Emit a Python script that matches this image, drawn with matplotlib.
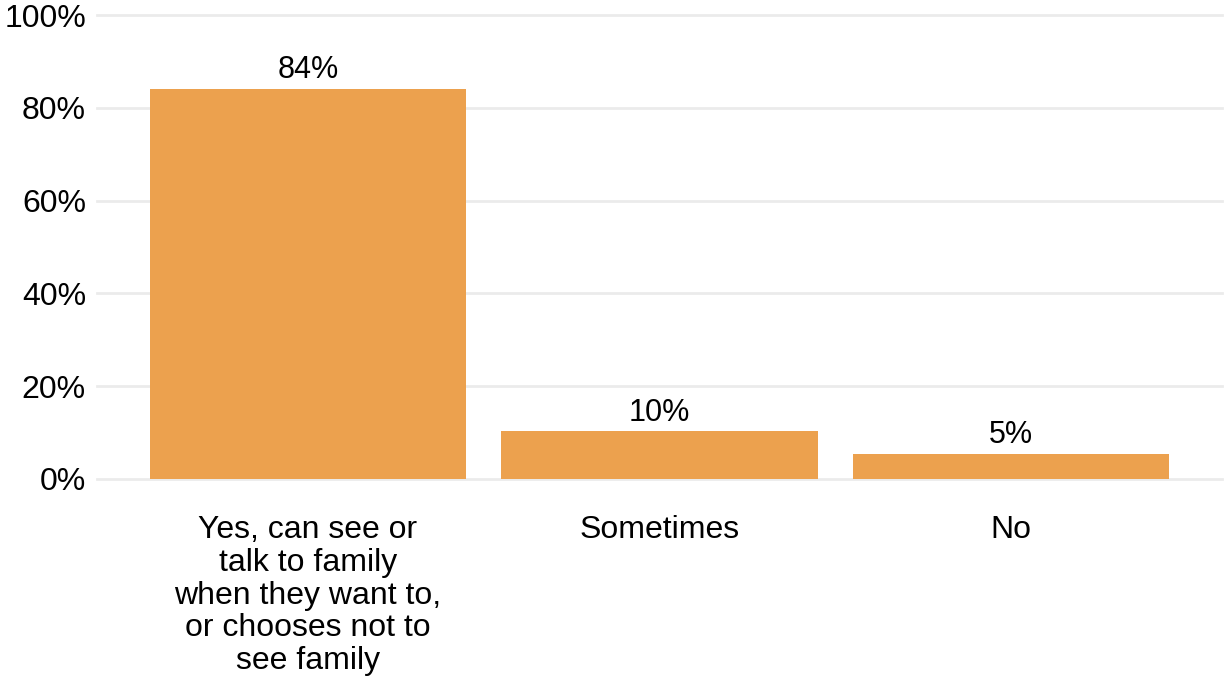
import matplotlib
matplotlib.use('Agg')
import matplotlib.pyplot as plt
from matplotlib.ticker import FuncFormatter

plt.rcParams['font.family'] = ['Liberation Sans', 'DejaVu Sans']

categories = ['Yes, can see or\ntalk to family\nwhen they want to,\nor chooses not to\nsee family',
              'Sometimes', 'No']
values = [84.1, 10.3, 5.4]
labels = ['84%', '10%', '5%']
y_ticks = [0, 20, 40, 60, 80, 100]

BAR_COLOR = '#ECA14E'
GRID_COLOR = '#EBEBEB'

W, H = 1225, 682
fig = plt.figure(figsize=(W / 100, H / 100), dpi=100)
# axes placed in pixel terms: x 97..1222, y 15..479 (0..100%)
ax = fig.add_axes([97 / W, 1 - 479 / H, (1222 - 97) / W, (479 - 15) / H])

x = list(range(len(categories)))
ax.bar(x, values, width=0.9, color=BAR_COLOR, zorder=2)
for xi, v, lab in zip(x, values, labels):
    ax.annotate(lab, (xi, v), xytext=(0, 2.5), textcoords='offset points',
                ha='center', va='bottom', fontsize=22, color='black')

ax.set_xlim(-0.6, len(categories) - 0.4)
ax.set_ylim(0, 100)
ax.set_yticks(y_ticks)
ax.yaxis.set_major_formatter(FuncFormatter(lambda v, p: f'{v:.0f}%'))
ax.set_xticks(x)
ax.set_xticklabels(categories, linespacing=1.12)

for y in y_ticks:
    ax.axhline(y, color=GRID_COLOR, linewidth=2, zorder=1, clip_on=False)

for s in ax.spines.values():
    s.set_visible(False)
ax.tick_params(axis='both', length=0, labelsize=23, colors='black')
ax.tick_params(axis='y', pad=8)
ax.tick_params(axis='x', pad=26)

fig.savefig('out.png', dpi=100)
